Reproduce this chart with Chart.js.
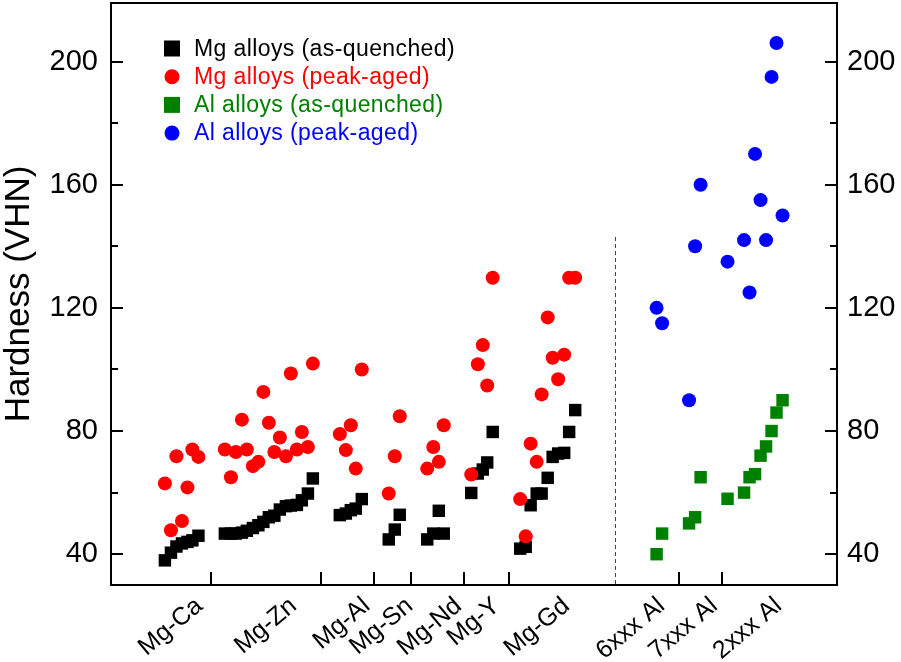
<!DOCTYPE html>
<html><head><meta charset="utf-8">
<script src="https://cdn.jsdelivr.net/npm/chart.js@4/dist/chart.umd.min.js"></script>
<style>html,body{margin:0;padding:0;background:#fff}#wrap{width:901px;height:662px}</style>
</head><body><div id="wrap"><canvas id="c" width="901" height="662"></canvas></div>
<script>
// ---- data ----
const groupNames = ['Mg-Ca','Mg-Zn','Mg-Al','Mg-Sn','Mg-Nd','Mg-Y','Mg-Gd','6xxx Al','7xxx Al','2xxx Al'];
const groupLabelPos = [16.9, 34.0, 47.3, 55.1, 64.0, 70.9, 83.6, 100.9, 110.5, 122.2];
const groupSeparators = [18.2, 38.2, 47.8, 54.5, 64.2, 72.4, 103.3, 111.1];
const mgAlDivider = 91.6;
const dividerTop = 143;
const yTicks = [40, 60, 80, 100, 120, 140, 160, 180, 200];

const mgX = [
  9.8, 10.9, 11.9, 12.9, 13.9, 14.8, 15.9,
  20.7, 21.8, 22.7, 23.8, 24.7, 25.8, 26.8, 27.7, 28.7, 29.7, 30.7, 31.8, 32.7, 33.8, 34.7, 35.8, 36.7,
  41.6, 42.7, 43.6, 44.5, 45.6,
  50.5, 51.6, 52.5,
  57.5, 58.6, 59.6, 60.5,
  65.5, 66.7, 67.6, 68.4, 69.4,
  74.4, 75.4, 76.3, 77.4, 78.3, 79.4, 80.3, 81.3, 82.4, 83.3, 84.4
];
const mgQuenched = [
  38, 40.5, 42.5, 43.5, 44, 44.5, 46,
  46.7, 46.7, 46.7, 47, 47.6, 48.5, 49.4, 50.5, 52, 52.5, 54.5, 55.6, 55.8, 56, 57.5, 59.7, 64.6,
  52.7, 53.2, 54.3, 54.8, 57.9,
  44.8, 48, 52.8,
  44.8, 46.7, 54.1, 46.7,
  59.9, 66.2, 67.5, 69.8, 79.7,
  41.8, 42.4, 55.9, 59.7, 59.7, 64.8, 71.6, 72.7, 72.9, 79.7, 86.8
];
const mgPeak = [
  63, 47.8, 71.8, 50.8, 61.7, 74, 71.6,
  74, 65, 73.2, 83.7, 74, 68.6, 70, 92.7, 82.7, 73.2, 77.9, 71.8, 98.7, 74, 79.7, 74.8, 101.9,
  79, 73.8, 81.9, 67.8, 100,
  59.7, 71.8, 84.8,
  67.8, 74.8, 70, 81.9,
  65.9, 101.7, 107.9, 94.8, 129.8,
  57.9, 45.8, 75.9, 70, 91.9, 116.9, 103.8, 96.8, 104.8, 129.8, 129.8
];
const alX = [99.2, 100.2, 105.1, 106.2, 107.2, 112.1, 115.1, 116.1, 117.1, 118.1, 119.1, 120.1, 121.0, 122.1];
const alQuenched = [40, 46.7, 50, 52, 65, 58, 60, 65, 66, 72, 75, 80, 86, 90];
const alPeak = [120, 115, 90, 140, 160, 135, 142, 125, 170, 155, 142, 195, 206, 150];

const seriesNames = ['Mg alloys (as-quenched)', 'Mg alloys (peak-aged)', 'Al alloys (as-quenched)', 'Al alloys (peak-aged)'];
const seriesColors = ['#000000', '#ff0000', '#008000', '#0000ff'];

const pts = (xs, ys) => xs.map((x, i) => ({x: x, y: ys[i]}));
const FONT = '"Liberation Sans", Arial, sans-serif';

// ---- plugins ----
const framePlugin = {
  id: 'frame',
  beforeDatasetsDraw(chart) {
    const {ctx, scales: {x, y}} = chart;
    ctx.save();
    ctx.strokeStyle = '#444';
    ctx.lineWidth = 1;
    ctx.setLineDash([4, 3]);
    const px = Math.round(x.getPixelForValue(mgAlDivider)) + 0.5;
    ctx.beginPath();
    ctx.moveTo(px, y.getPixelForValue(dividerTop));
    ctx.lineTo(px, chart.chartArea.bottom);
    ctx.stroke();
    ctx.restore();
  },
  afterDatasetsDraw(chart) {
    const {ctx, chartArea: a, scales: {x, y}} = chart;
    ctx.save();
    ctx.strokeStyle = '#000';
    ctx.lineWidth = 2;
    ctx.setLineDash([]);
    ctx.strokeRect(a.left, a.top, a.right - a.left, a.bottom - a.top);
    ctx.beginPath();
    yTicks.forEach(v => {
      const py = Math.round(y.getPixelForValue(v));
      const len = v % 40 === 0 ? 12 : 7;
      ctx.moveTo(a.left, py); ctx.lineTo(a.left + len, py);
      ctx.moveTo(a.right, py); ctx.lineTo(a.right - len, py);
    });
    groupSeparators.forEach(v => {
      const px = Math.round(x.getPixelForValue(v));
      ctx.moveTo(px, a.bottom); ctx.lineTo(px, a.bottom - 13);
    });
    ctx.stroke();
    // rotated category labels
    ctx.fillStyle = '#000';
    ctx.font = '25px ' + FONT;
    ctx.textAlign = 'right';
    ctx.textBaseline = 'alphabetic';
    const ang = -40 * Math.PI / 180;
    groupNames.forEach((name, i) => {
      ctx.save();
      ctx.translate(x.getPixelForValue(groupLabelPos[i]), a.bottom + 23);
      ctx.rotate(ang);
      ctx.fillText(name, 0, 0);
      ctx.restore();
    });
    ctx.restore();
  },
  afterDraw(chart) {
    const ctx = chart.ctx;
    ctx.save();
    const mx = 172, tx = 194, y0 = 48.5, dy = 28.2;
    ctx.font = '23px ' + FONT;
    try { ctx.letterSpacing = '0.4px'; } catch (e) {}
    ctx.textBaseline = 'middle';
    ctx.textAlign = 'left';
    chart.data.datasets.forEach((ds, i) => {
      const yy = y0 + i * dy;
      ctx.fillStyle = ds.backgroundColor;
      if (ds.pointStyle === 'rect') {
        ctx.fillRect(mx - 8, yy - 8, 16, 16);
      } else {
        ctx.beginPath(); ctx.arc(mx, yy, 7.5, 0, Math.PI * 2); ctx.fill();
      }
      ctx.fillText(ds.label, tx, yy + 1);
    });
    ctx.restore();
  }
};

const yCommon = {
  type: 'linear', min: 30, max: 219,
  afterBuildTicks: s => { s.ticks = yTicks.map(v => ({value: v})); },
  grid: {display: false, drawTicks: false},
  border: {display: false},
};

new Chart(document.getElementById('c'), {
  type: 'scatter',
  data: {
    datasets: [
      {label: seriesNames[0], data: pts(mgX, mgQuenched), pointStyle: 'rect', pointRadius: 8.8, backgroundColor: seriesColors[0], borderWidth: 0, order: 2},
      {label: seriesNames[1], data: pts(mgX, mgPeak), pointStyle: 'circle', pointRadius: 7, backgroundColor: seriesColors[1], borderWidth: 0, order: 1},
      {label: seriesNames[2], data: pts(alX, alQuenched), pointStyle: 'rect', pointRadius: 8.8, backgroundColor: seriesColors[2], borderWidth: 0, order: 2},
      {label: seriesNames[3], data: pts(alX, alPeak), pointStyle: 'circle', pointRadius: 7, backgroundColor: seriesColors[3], borderWidth: 0, order: 1}
    ]
  },
  options: {
    responsive: false,
    animation: false,
    devicePixelRatio: 1,
    events: [],
    layout: {autoPadding: false, padding: {top: 3, left: 0, right: 0, bottom: 0}},
    plugins: {legend: {display: false}, tooltip: {enabled: false}},
    scales: {
      x: {
        type: 'linear', min: 0, max: 132, position: 'bottom',
        afterBuildTicks: s => { s.ticks = groupLabelPos.map(v => ({value: v})); },
        afterFit: s => { s.height = 77; s.paddingLeft = 0; s.paddingRight = 0; },
        ticks: {display: false},
        grid: {display: false, drawTicks: false},
        border: {display: false}
      },
      y: Object.assign({}, yCommon, {
        position: 'left',
        afterFit: s => { s.width = 111; s.paddingTop = 0; s.paddingBottom = 0; },
        ticks: {padding: 13, color: '#000', font: {family: FONT, size: 29},
          callback: v => (v % 40 === 0 ? String(v) : '')},
        title: {display: true, text: 'Hardness (VHN)', color: '#000', padding: 0,
          font: {family: FONT, size: 35, lineHeight: 1.12}}
      }),
      y2: Object.assign({}, yCommon, {
        position: 'right',
        afterFit: s => { s.width = 64; s.paddingTop = 0; s.paddingBottom = 0; },
        ticks: {padding: 10, color: '#000', font: {family: FONT, size: 29},
          callback: v => (v % 40 === 0 ? String(v) : '')}
      })
    }
  },
  plugins: [framePlugin]
});
</script>
</body></html>
